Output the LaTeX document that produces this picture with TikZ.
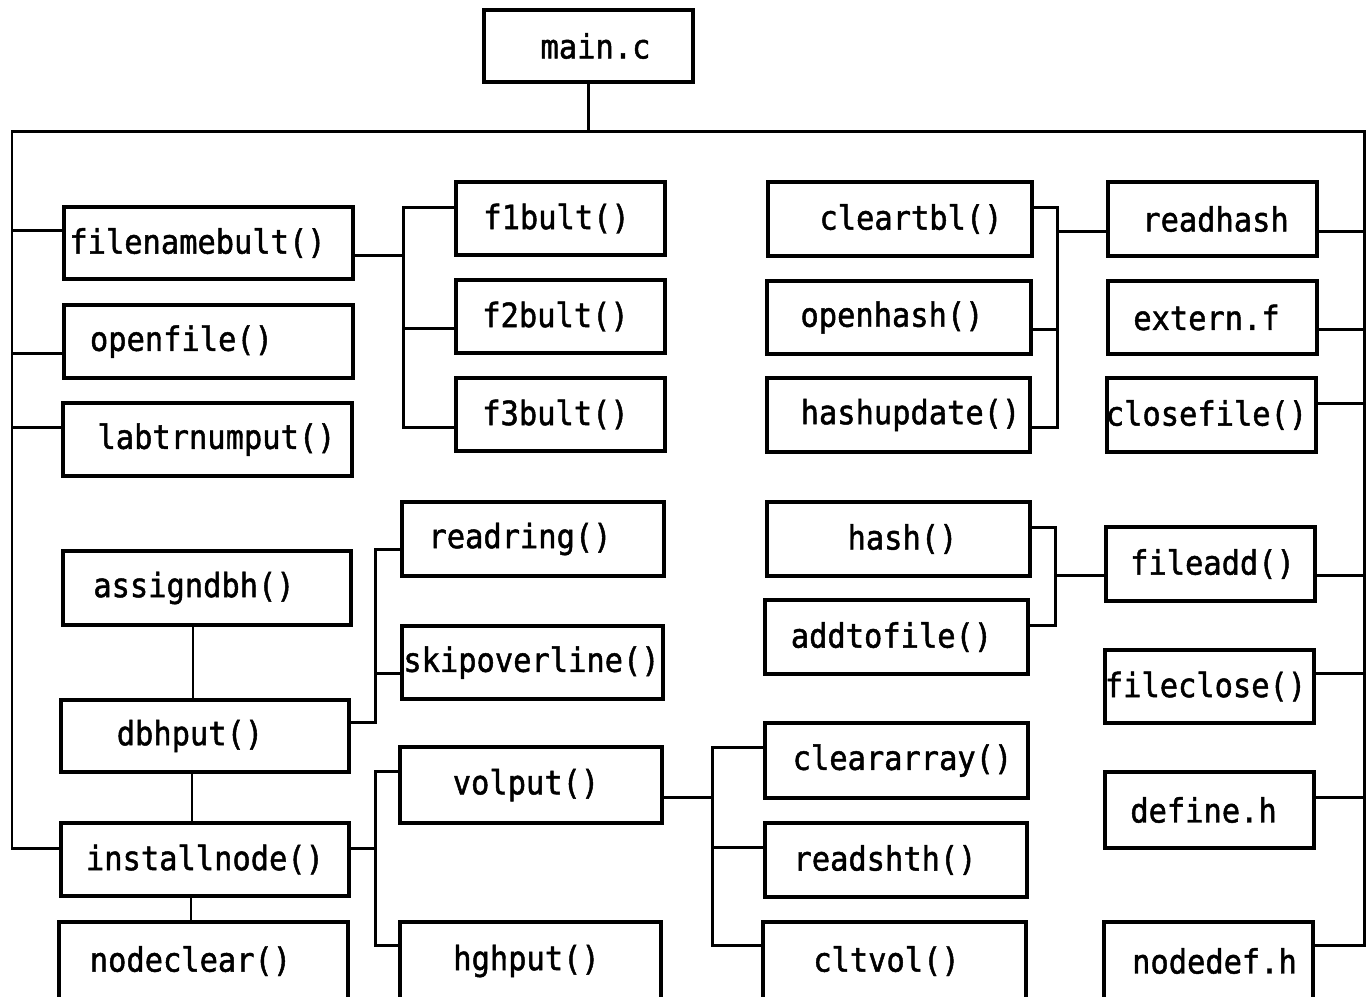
\documentclass[tikz,border=0pt]{standalone}
\usepackage{fontspec}
\newfontfamily\boxfont[FakeStretch=0.91,FakeBold=1.4]{DejaVu Sans Mono}
% box: name, x1, y1, x2, y2, text shift, text
\newcommand\mkbox[7]{%
  \node[blk, minimum width={(#4-#2)*0.01cm}, minimum height={(#5-#3)*0.01cm},
        label={[lbl, xshift={#6*0.01cm}]center:{#7}}] (#1) at ({(#2+#4)/2},{(#3+#5)/2}) {};}
\begin{document}
\begin{tikzpicture}[x=0.01cm,y=-0.01cm,
  blk/.style={draw, line width=1.0pt, inner sep=0pt, outer sep=0pt},
  lbl/.style={inner sep=0pt, font=\boxfont\fontsize{9.5}{11}\selectfont},
  conn/.style={line width=0.85pt}]
\useasboundingbox (0,0) rectangle (1371,996);

% top
\mkbox{main}{484}{10}{693}{82}{7}{main.c}

% first column
\mkbox{fnb}{64}{207}{353}{279}{-11}{filenamebult()}
\mkbox{opf}{64}{305}{353}{378}{-27}{openfile()}
\mkbox{lab}{63}{403}{352}{476}{9}{labtrnumput()}
\mkbox{asg}{63}{551}{351}{625}{-13}{assigndbh()}
\mkbox{dbh}{61}{700}{349}{772}{-15}{dbhput()}
\mkbox{ins}{61}{823}{349}{896}{0}{installnode()}
\mkbox{ndc}{59}{922}{348}{1000}{-13}{nodeclear()}

% second column
\mkbox{f1}{456}{182}{665}{255}{-4}{f1bult()}
\mkbox{f2}{456}{280}{665}{353}{-5}{f2bult()}
\mkbox{f3}{456}{378}{665}{451}{-5}{f3bult()}
\mkbox{rr}{402}{502}{664}{576}{-13}{readring()}
\mkbox{sk}{402}{626}{663}{699}{-1}{skipoverline()}
\mkbox{vp}{400}{747}{662}{823}{-5}{volput()}
\mkbox{hg}{400}{922}{661}{1000}{-4}{hghput()}

% third column
\mkbox{ct}{768}{182}{1032}{256}{11}{cleartbl()}
\mkbox{oh}{767}{281}{1031}{354}{-7}{openhash()}
\mkbox{hu}{767}{378}{1030}{452}{12}{hashupdate()}
\mkbox{hs}{767}{502}{1030}{576}{4}{hash()}
\mkbox{atf}{765}{600}{1028}{674}{-5}{addtofile()}
\mkbox{ca}{765}{723}{1028}{798}{6}{cleararray()}
\mkbox{rs}{765}{823}{1027}{897}{-11}{readshth()}
\mkbox{cv}{763}{922}{1026}{1000}{-8}{cltvol()}

% fourth column
\mkbox{rh}{1108}{182}{1317}{256}{3}{readhash}
\mkbox{ef}{1108}{281}{1317}{354}{-6}{extern.f}
\mkbox{cf}{1107}{378}{1316}{452}{-5}{closefile()}
\mkbox{fa}{1106}{527}{1315}{601}{2}{fileadd()}
\mkbox{fc}{1105}{650}{1314}{723}{-4}{fileclose()}
\mkbox{dh}{1105}{772}{1314}{848}{-6}{define.h}
\mkbox{nd}{1104}{922}{1313}{1000}{6}{nodedef.h}

% main frame
\coordinate (lrail) at (12,131);
\coordinate (rrail) at (1364,131);
\draw[conn] (main.south) -- (main.south |- lrail);
\draw[conn] (ins.west |- 0,848) -| (lrail) -- (rrail) |- (nd.east |- 0,945);

% left rail branches
\draw[conn] (fnb.west |- 0,230) -- (lrail |- 0,230);
\draw[conn] (opf.west |- 0,353) -- (lrail |- 0,353);
\draw[conn] (lab.west |- 0,427) -- (lrail |- 0,427);

% vertical chain in first column
\draw[conn] (asg.south -| 193,0) -- (dbh.north -| 193,0);
\draw[conn] (dbh.south -| 192,0) -- (ins.north -| 192,0);
\draw[conn] (ins.south -| 191,0) -- (ndc.north -| 191,0);

% filenamebult() -> f1/f2/f3
\coordinate (j1) at (403,207);
\draw[conn] (fnb.east |- 0,255) -- (j1 |- 0,255);
\draw[conn] (f1.west |- j1) -- (j1) -- (j1 |- 0,427) -- (f3.west |- 0,427);
\draw[conn] (f2.west |- 0,328) -- (j1 |- 0,328);

% dbhput() -> readring/skipoverline
\coordinate (j2) at (375,549);
\draw[conn] (rr.west |- j2) -- (j2) -- (j2 |- 0,722) -- (dbh.east |- 0,722);
\draw[conn] (sk.west |- 0,673) -- (j2 |- 0,673);

% installnode() -> volput/hghput
\coordinate (j3) at (375,771);
\draw[conn] (vp.west |- j3) -- (j3) -- (j3 |- 0,945) -- (hg.west |- 0,945);
\draw[conn] (ins.east |- 0,848) -- (j3 |- 0,848);

% volput() -> cleararray/readshth/cltvol
\coordinate (j4) at (712,747);
\draw[conn] (ca.west |- j4) -- (j4) -- (j4 |- 0,945) -- (cv.west |- 0,945);
\draw[conn] (vp.east |- 0,797) -- (j4 |- 0,797);
\draw[conn] (rs.west |- 0,847) -- (j4 |- 0,847);

% cleartbl/openhash/hashupdate -> readhash
\coordinate (j5) at (1057,207);
\draw[conn] (ct.east |- j5) -- (j5) -- (j5 |- 0,427) -- (hu.east |- 0,427);
\draw[conn] (oh.east |- 0,329) -- (j5 |- 0,329);
\draw[conn] (rh.west |- 0,231) -- (j5 |- 0,231);

% hash/addtofile -> fileadd
\coordinate (j6) at (1055,527);
\draw[conn] (hs.east |- j6) -- (j6) -- (j6 |- 0,625) -- (atf.east |- 0,625);
\draw[conn] (fa.west |- 0,575) -- (j6 |- 0,575);

% right rail branches
\foreach \n/\y in {rh/231, ef/329, cf/403, fa/575, fc/673, dh/797}
  \draw[conn] (\n.east |- 0,\y) -- (rrail |- 0,\y);
\end{tikzpicture}
\end{document}
